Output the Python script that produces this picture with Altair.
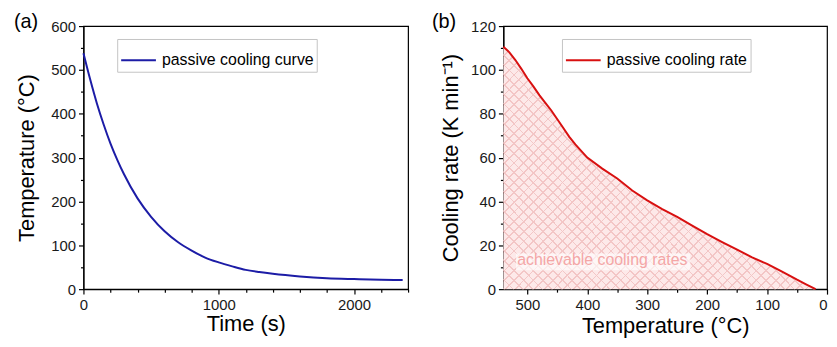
import altair as alt
import pandas as pd

# ---------------- data ----------------
# (a) passive cooling curve
time_s = [0, 50, 100, 150, 200, 250, 300, 400, 500, 600, 700, 800, 900,
          1000, 1100, 1200, 1300, 1400, 1600, 1800, 2000, 2200, 2360]
temp_c = [538, 478, 423, 375, 332, 295, 262, 207, 165, 132, 107, 88, 72,
          61, 52, 44, 39, 35, 29, 25, 23, 21.5, 21]

# (b) passive cooling rate vs temperature
rate_temp_c = [540, 530, 520, 510, 500, 490, 480, 470, 460, 450, 440, 430, 420,
               400, 375, 350, 325, 300, 275, 250, 225, 200, 175, 150, 125,
               100, 75, 50, 35, 19]
rate_k_min = [110.6, 108, 104.5, 100.5, 96.2, 92.5, 88.5, 85, 81.5, 77.5, 73.5,
              69.5, 66, 60, 55, 50.5, 45, 40.5, 36.5, 33, 29, 25.1, 21.5, 18,
              14.5, 11.5, 8, 4.3, 2.2, 0]

series_a = "passive cooling curve"
series_b = "passive cooling rate"
annotation = "achievable cooling rates"
annot_at = [517, 10.9]            # temperature, rate
annot_box = [519, 228, 8.6, 16.3]  # T from, T to, rate from, rate to
panel_labels = ["(a)", "(b)"]

x_ticks_a = [0, 200, 400, 600, 800, 1000, 1200, 1400, 1600, 1800, 2000, 2200, 2400]
y_ticks_a = [0, 50, 100, 150, 200, 250, 300, 350, 400, 450, 500, 550, 600]
x_ticks_b = [0, 50, 100, 150, 200, 250, 300, 350, 400, 450, 500]
y_ticks_b = [0, 10, 20, 30, 40, 50, 60, 70, 80, 90, 100, 110, 120]

FONT = "Liberation Sans, Arial, Helvetica, sans-serif"
BLUE = "#1c1ca6"
RED = "#d81010"

df_a = pd.DataFrame({"t": time_s, "T": temp_c, "s": series_a})
df_b = pd.DataFrame({"T": rate_temp_c, "rate": rate_k_min, "s": series_b})
df_txt = pd.DataFrame({"T": [annot_at[0]], "rate": [annot_at[1]], "label": [annotation]})
df_box = pd.DataFrame({"T": [annot_box[0]], "T2": [annot_box[1]],
                       "rate": [annot_box[2]], "rate2": [annot_box[3]]})


def axis(title, values, major, title_pad, flush=False):
    return alt.Axis(
        title=title, values=values, format="d", labelOverlap=False,
        labelExpr=f"datum.value % {major} === 0 ? datum.label : ''",
        tickSize={"condition": {"test": f"datum.value % {major} === 0", "value": 5}, "value": 3},
        labelPadding=3, titlePadding=title_pad, labelFlush=flush,
    )


def legend(x, y):
    return alt.Legend(
        title=None, orient="none", legendX=x, legendY=y, symbolType="stroke",
        symbolSize=1225, symbolStrokeWidth=2, labelFontSize=16, labelFont=FONT,
        labelColor="black", labelOffset=5, labelLimit=300, padding=3,
        strokeColor="#c4c4c4", fillColor="white",
    )


def hatch(x1, y1, x2, y2, bg, fg, n=57, half=0.0016):
    stops = []
    for i in range(n + 1):
        c = i / n
        a = max(0.0, c - half)
        b = min(1.0, c + half)
        stops += [{"offset": a, "color": bg}, {"offset": a, "color": fg},
                  {"offset": b, "color": fg}, {"offset": b, "color": bg}]
    return {"gradient": "linear", "x1": x1, "y1": y1, "x2": x2, "y2": y2, "stops": stops}


def panel_label(txt, dx):
    return alt.Chart(pd.DataFrame({"p": [txt]})).mark_text(
        align="left", baseline="alphabetic", fontSize=20, font=FONT, color="black"
    ).encode(x=alt.value(dx), y=alt.value(2), text="p:N")


# ---------------- panel (a) ----------------
xa = alt.X("t:Q", scale=alt.Scale(domain=[0, 2400], nice=False),
           axis=axis("Time (s)", x_ticks_a, 1000, 2))
ya = alt.Y("T:Q", scale=alt.Scale(domain=[0, 600], nice=False),
           axis=axis("Temperature (°C)", y_ticks_a, 100, 12))

line_a = alt.Chart(df_a).mark_line(strokeWidth=2, interpolate="monotone").encode(
    x=xa, y=ya,
    color=alt.Color("s:N", scale=alt.Scale(domain=[series_a], range=[BLUE]), legend=legend(34, 13)),
)
chart_a = alt.layer(line_a, panel_label(panel_labels[0], -70)).properties(width=327, height=265)

# ---------------- panel (b) ----------------
xb = alt.X("T:Q", scale=alt.Scale(domain=[0, 540], reverse=True, nice=False),
           axis=axis("Temperature (°C)", x_ticks_b, 100, 4, flush=True))
yb = alt.Y("rate:Q", scale=alt.Scale(domain=[0, 120], nice=False),
           axis=axis("Cooling rate (K min⁻¹)", y_ticks_b, 20, 8))

k, r = 1.111, 0.77
area1 = alt.Chart(df_b).mark_area(
    opacity=1, fill=hatch(0, 0, k, k * r, "#fde9e9", "#f3c6c6")
).encode(x=xb, y=yb)
area2 = alt.Chart(df_b).mark_area(
    opacity=1, fill=hatch(0, 1, k, 1 - k * r, "rgba(255,255,255,0)", "#f3c6c6")
).encode(x=xb, y=yb)
box = alt.Chart(df_box).mark_rect(fill="white", opacity=0.65).encode(
    x=xb, x2="T2:Q", y=yb, y2="rate2:Q")
txt = alt.Chart(df_txt).mark_text(
    align="left", baseline="alphabetic", fontSize=16, font=FONT, color="#f4a6a6"
).encode(x=xb, y=yb, text="label:N")
line_b = alt.Chart(df_b).mark_line(strokeWidth=2).encode(
    x=xb, y=yb,
    color=alt.Color("s:N", scale=alt.Scale(domain=[series_b], range=[RED]), legend=legend(59, 13)),
)

chart_b = alt.layer(area1, area2, box, txt, line_b,
                    panel_label(panel_labels[1], -72)).properties(width=326, height=265)

chart = alt.hconcat(chart_a, chart_b, spacing=21).resolve_scale(
    color="independent"
).properties(
    padding={"left": 5, "top": 2, "right": 0, "bottom": 0}
).configure_view(
    stroke="black", strokeWidth=1.2
).configure_axis(
    grid=False, domainColor="black", domainWidth=1.2, tickColor="black", tickWidth=1.2,
    labelFont=FONT, labelFontSize=15, labelColor="#1a1a1a",
    titleFont=FONT, titleFontSize=22, titleFontWeight="normal", titleColor="black",
)

chart.save("out.html", embed_options={"renderer": "svg", "actions": False})
